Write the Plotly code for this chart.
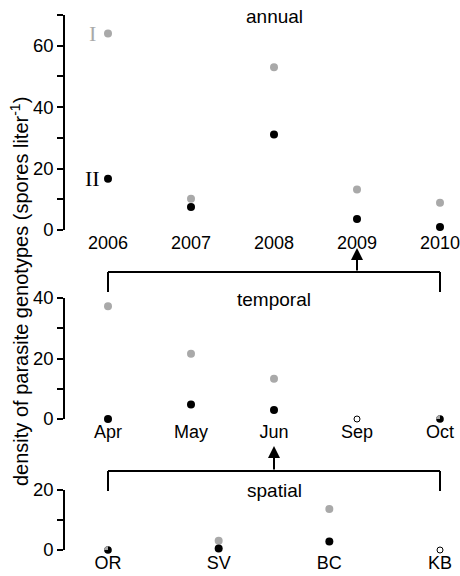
import plotly.graph_objects as go

# ---- data ----
annual_cats = ["2006", "2007", "2008", "2009", "2010"]
annual_I = [64.0, 10.2, 53.0, 13.2, 8.9]
annual_II = [16.7, 7.5, 31.1, 3.6, 1.0]

temporal_cats = ["Apr", "May", "Jun", "Sep", "Oct"]
temporal_I = [37.3, 21.6, 13.3, 0.0, 0.3]
temporal_II = [0.0, 4.8, 3.0, 0.0, 0.3]

spatial_cats = ["OR", "SV", "BC", "KB"]
spatial_I = [0.3, 3.1, 13.7, 0.0]
spatial_II = [0.3, 0.5, 2.8, 0.0]

W, H = 460, 576
GREY = "#a9a9a9"
FONT = "Liberation Sans, Arial, sans-serif"

def py(p):
    return (H - p) / H

fig = go.Figure()
shapes = []

panels = [
    (annual_cats, annual_I, annual_II, "x", "y"),
    (temporal_cats, temporal_I, temporal_II, "x2", "y2"),
    (spatial_cats, spatial_I, spatial_II, "x3", "y3"),
]

r = 3.8
k = 0.5523 * r
half_path = (f"M 0,{-r} C {-k},{-r} {-r},{-k} {-r},0 "
             f"C {-r},{k} {-k},{r} 0,{r} Z")

for cats, g, b, xa, ya in panels:
    idx = list(range(len(cats)))
    gx, gy, bx, by, ox, oy, hx, hy = [], [], [], [], [], [], [], []
    for i in idx:
        if g[i] == b[i]:
            if g[i] == 0:
                ox.append(i); oy.append(0)
            else:
                hx.append(i); hy.append(0)
        else:
            gx.append(i); gy.append(g[i])
            bx.append(i); by.append(b[i])
    fig.add_trace(go.Scatter(x=gx, y=gy, mode="markers", xaxis=xa, yaxis=ya,
                             marker=dict(color=GREY, size=8, line=dict(width=0)),
                             cliponaxis=False, showlegend=False))
    fig.add_trace(go.Scatter(x=bx, y=by, mode="markers", xaxis=xa, yaxis=ya,
                             marker=dict(color="black", size=8, line=dict(width=0)),
                             cliponaxis=False, showlegend=False))
    fig.add_trace(go.Scatter(x=ox, y=oy, mode="markers", xaxis=xa, yaxis=ya,
                             marker=dict(color="white", size=6,
                                         line=dict(color="black", width=1)),
                             cliponaxis=False, showlegend=False))
    fig.add_trace(go.Scatter(x=hx, y=hy, mode="markers", xaxis=xa, yaxis=ya,
                             marker=dict(color="black", size=7.6, line=dict(width=0)),
                             cliponaxis=False, showlegend=False))
    for xi, yi in zip(hx, hy):
        shapes.append(dict(type="path", xref=xa, yref=ya, xsizemode="pixel",
                           ysizemode="pixel", xanchor=xi, yanchor=yi,
                           path=half_path, fillcolor=GREY, line=dict(width=0),
                           layer="above"))

xdom = [65 / W, 1.0]
r5 = [-43 / 83, (W - 108) / 83]
r4 = [-43 / 110.67, (W - 108) / 110.67]

def xax(cats, rng):
    return dict(domain=xdom, range=rng, tickmode="array",
                tickvals=list(range(len(cats))), ticktext=cats,
                showline=False, showgrid=False, zeroline=False, ticks="",
                automargin=False, ticklabeloverflow="allow",
                tickfont=dict(size=18, color="black", family=FONT))

def yax(top, dom, anchor):
    vals = list(range(0, top + 1, 10))
    return dict(domain=dom, range=[0, top], anchor=anchor, tickmode="array",
                tickvals=vals, ticktext=[str(v) if v % 20 == 0 else "" for v in vals],
                showline=True, linecolor="black", linewidth=1.6,
                ticks="outside", ticklen=6, tickwidth=1.6, tickcolor="black",
                showgrid=False, zeroline=False, automargin=False,
                tickfont=dict(size=18.5, color="black", family=FONT))

fig.update_layout(
    template="none",
    width=W, height=H,
    margin=dict(l=0, r=0, t=0, b=0, autoexpand=False),
    paper_bgcolor="white", plot_bgcolor="white",
    font=dict(family=FONT, size=18, color="black"),
    xaxis=dict(**xax(annual_cats, r5), anchor="y"),
    xaxis2=dict(**xax(temporal_cats, r5), anchor="y2"),
    xaxis3=dict(**xax(spatial_cats, r4), anchor="y3"),
    yaxis=yax(70, [py(230), py(15)], "x"),
    yaxis2=yax(40, [py(419), py(298)], "x2"),
    yaxis3=yax(20, [py(550), py(490)], "x3"),
)

# brackets
for yb, yv in [(272, 292), (471, 491)]:
    shapes.append(dict(type="line", xref="x", yref="paper", x0=0, x1=4,
                       y0=py(yb), y1=py(yb), line=dict(color="black", width=2)))
    for xv in [0, 4]:
        shapes.append(dict(type="line", xref="x", yref="paper", x0=xv, x1=xv,
                           y0=py(yb), y1=py(yv), line=dict(color="black", width=2)))

fig.update_layout(shapes=shapes)

ann = []
# arrows
for xv, ytip, ybase in [(3, 248, 272), (2, 446, 471)]:
    ann.append(dict(x=xv, y=py(ytip), xref="x", yref="paper",
                    ax=0, ay=ybase - ytip, axref="pixel", ayref="pixel",
                    text="", showarrow=True, arrowhead=2, arrowsize=1.2,
                    arrowwidth=2, arrowcolor="black", standoff=0))
# panel titles
for txt, xv, yc in [("annual", 2, 16), ("temporal", 2, 300), ("spatial", 2, 490)]:
    ann.append(dict(x=xv, y=py(yc), xref="x", yref="paper", text=txt,
                    showarrow=False, xanchor="center", yanchor="middle",
                    font=dict(size=19, color="black", family=FONT)))
# genotype labels
ann.append(dict(x=-0.19, y=annual_I[0], xref="x", yref="y", text="I",
                showarrow=False, xanchor="center", yanchor="middle",
                font=dict(size=22, color=GREY, family="Liberation Serif, serif")))
ann.append(dict(x=-0.19, y=annual_II[0], xref="x", yref="y", text="II",
                showarrow=False, xanchor="center", yanchor="middle",
                font=dict(size=22, color="black", family="Liberation Serif, serif")))
# y title
ann.append(dict(x=19 / W, y=py(292), xref="paper", yref="paper",
                text="density of parasite genotypes (spores liter<sup>-1</sup>)",
                textangle=-90, showarrow=False, xanchor="center", yanchor="middle",
                font=dict(size=20, color="black", family=FONT)))
fig.update_layout(annotations=ann)

fig.write_html("out.html")
